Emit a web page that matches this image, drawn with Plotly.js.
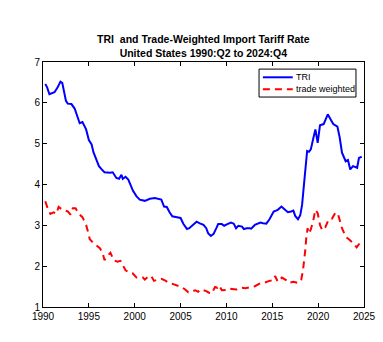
<!DOCTYPE html>
<html>
<head>
<meta charset="utf-8">
<script src="https://cdn.plot.ly/plotly-3.0.1.min.js"></script>
<style>html,body{margin:0;padding:0;background:#fff;}#chart{width:383px;height:342px;}</style>
</head>
<body>
<div id="chart"></div>
<script>
var triYears = [1990.25,1990.45,1990.7,1991.25,1991.6,1991.9,1992.1,1992.5,1992.7,1993.1,1993.45,1993.7,1994.0,1994.3,1994.5,1994.7,1995.0,1995.3,1995.5,1995.8,1996.1,1996.4,1996.7,1997.3,1997.6,1998.0,1998.3,1998.55,1998.7,1999.0,1999.3,1999.6,1999.8,2000.2,2000.55,2001.1,2001.65,2002.2,2002.7,2002.9,2003.2,2003.5,2003.8,2004.1,2004.6,2005.0,2005.3,2005.7,2005.95,2006.3,2006.75,2007.1,2007.5,2007.8,2008.0,2008.3,2008.6,2008.9,2009.1,2009.5,2009.75,2010.1,2010.5,2010.8,2011.05,2011.3,2011.7,2011.9,2012.2,2012.5,2012.7,2013.1,2013.7,2014.0,2014.35,2014.7,2015.15,2015.6,2016.0,2016.3,2016.7,2017.05,2017.3,2017.5,2017.8,2018.05,2018.25,2018.4,2018.6,2018.8,2019.0,2019.2,2019.45,2019.7,2019.95,2020.2,2020.6,2021.05,2021.35,2021.65,2022.1,2022.35,2022.6,2023.0,2023.25,2023.5,2023.8,2024.1,2024.25,2024.45,2024.75];
var triValues = [6.46,6.38,6.21,6.26,6.38,6.52,6.49,6.05,5.98,5.97,5.86,5.68,5.50,5.53,5.45,5.35,5.09,4.98,4.79,4.61,4.45,4.37,4.30,4.29,4.30,4.16,4.14,4.24,4.14,4.19,4.12,3.96,3.85,3.71,3.63,3.60,3.65,3.67,3.65,3.63,3.46,3.45,3.32,3.22,3.20,3.18,3.04,2.91,2.93,2.99,3.09,3.05,3.01,2.93,2.81,2.74,2.79,2.93,3.03,3.03,2.99,3.03,3.07,3.04,2.93,2.99,2.97,2.91,2.93,2.93,2.92,3.01,3.07,3.05,3.04,3.15,3.34,3.38,3.46,3.40,3.32,3.34,3.36,3.23,3.15,3.25,3.50,3.87,4.45,4.82,4.80,4.86,5.11,5.35,5.02,5.45,5.48,5.72,5.60,5.48,5.42,5.15,4.78,4.57,4.60,4.37,4.45,4.41,4.41,4.65,4.68];

var twYears = [1990.25,1990.5,1990.8,1991.15,1991.45,1991.7,1992.0,1992.4,1992.7,1993.0,1993.25,1993.55,1993.9,1994.3,1994.7,1994.9,1995.1,1995.45,1995.8,1996.2,1996.5,1996.7,1997.1,1997.35,1997.7,1998.1,1998.45,1998.7,1999.0,1999.4,1999.8,2000.2,2000.5,2000.9,2001.1,2001.45,2001.8,2002.1,2002.5,2002.9,2003.3,2003.85,2004.2,2004.75,2005.1,2005.5,2005.85,2006.3,2006.6,2006.9,2007.2,2007.5,2007.8,2008.1,2008.4,2008.75,2009.0,2009.2,2009.5,2010.0,2010.2,2010.6,2011.1,2011.3,2011.7,2012.05,2012.6,2013.1,2013.7,2014.2,2014.7,2015.15,2015.3,2015.6,2016.05,2016.5,2016.8,2017.3,2017.8,2018.15,2018.35,2018.5,2018.6,2018.7,2018.85,2019.0,2019.2,2019.45,2019.7,2019.95,2020.2,2020.45,2020.8,2021.15,2021.5,2021.9,2022.2,2022.6,2023.0,2023.35,2023.8,2024.2,2024.55,2024.75];
var twValues = [3.59,3.42,3.28,3.32,3.28,3.45,3.40,3.37,3.34,3.26,3.42,3.42,3.28,3.20,3.01,2.85,2.66,2.58,2.52,2.44,2.33,2.15,2.27,2.33,2.15,2.11,2.13,2.03,1.90,1.84,1.82,1.72,1.72,1.72,1.67,1.74,1.76,1.64,1.67,1.69,1.65,1.58,1.56,1.51,1.49,1.43,1.36,1.39,1.41,1.37,1.43,1.41,1.39,1.35,1.33,1.49,1.47,1.53,1.41,1.42,1.45,1.44,1.43,1.45,1.47,1.46,1.49,1.51,1.58,1.60,1.64,1.66,1.76,1.62,1.72,1.66,1.59,1.62,1.59,1.66,1.90,2.15,2.40,2.68,2.93,2.80,2.90,3.10,3.38,3.30,3.01,2.88,2.96,3.15,3.16,3.32,3.25,2.93,2.72,2.66,2.57,2.46,2.58,2.63];

var xTickVals = [1990,1995,2000,2005,2010,2015,2020,2025];
var yTickVals = [1,2,3,4,5,6,7];
var seriesNames = ['TRI', 'trade weighted'];
var seriesColors = ['#0000ff', '#ff0000'];
var titleText = '<b>TRI  and Trade-Weighted Import Tariff Rate</b><br><b>United States 1990:Q2 to 2024:Q4</b>';

var FONT = 'Liberation Sans, Arial, sans-serif';
var DASH = '7px,5px';

var traces = [
  {x: triYears, y: triValues, name: seriesNames[0], type: 'scatter', mode: 'lines',
   line: {color: seriesColors[0], width: 2}},
  {x: twYears, y: twValues, name: seriesNames[1], type: 'scatter', mode: 'lines',
   line: {color: seriesColors[1], width: 2, dash: DASH}}
];

var axisCommon = {
  showgrid: false, zeroline: false, showline: true, linecolor: '#000', linewidth: 1,
  mirror: 'ticks', ticks: 'inside', ticklen: 4, tickcolor: '#000', tickwidth: 1,
  tickfont: {family: FONT, size: 10, color: '#000'}
};

// legend box drawn in paper coordinates (MATLAB-style compact legend)
var legBox = {x0: 0.673, x1: 0.975, y0: 0.857, y1: 0.971};
var legRows = [0.9376, 0.8886];
var legLineX = [0.685, 0.778];
var legTextX = 0.782;

var shapes = [
  {type: 'rect', xref: 'paper', yref: 'paper', x0: legBox.x0, x1: legBox.x1, y0: legBox.y0, y1: legBox.y1,
   line: {color: '#000', width: 1}, fillcolor: '#fff', layer: 'above'}
];
var annotations = [];
seriesNames.forEach(function (nm, i) {
  shapes.push({type: 'line', xref: 'paper', yref: 'paper', x0: legLineX[0], x1: legLineX[1], y0: legRows[i], y1: legRows[i],
    line: {color: seriesColors[i], width: 2, dash: i === 1 ? DASH : 'solid'}, layer: 'above'});
  annotations.push({xref: 'paper', yref: 'paper', x: legTextX, y: legRows[i], xanchor: 'left', yanchor: 'middle',
    text: nm, showarrow: false, font: {family: FONT, size: 9, color: '#000'}});
});

var layout = {
  width: 383, height: 342,
  margin: {l: 43, r: 19, t: 62, b: 35},
  paper_bgcolor: '#fff', plot_bgcolor: '#fff',
  title: {text: titleText, x: 0.531, xanchor: 'center', y: 0.874, yanchor: 'top', yref: 'container',
          font: {family: FONT, size: 10.5, color: '#000'}},
  xaxis: Object.assign({}, axisCommon, {range: [1990, 2025], tickvals: xTickVals, ticktext: xTickVals.map(String)}),
  yaxis: Object.assign({}, axisCommon, {range: [1, 7], tickvals: yTickVals, ticktext: yTickVals.map(String)}),
  showlegend: false,
  shapes: shapes,
  annotations: annotations
};

Plotly.newPlot('chart', traces, layout, {displayModeBar: false, staticPlot: true});
</script>
</body>
</html>
